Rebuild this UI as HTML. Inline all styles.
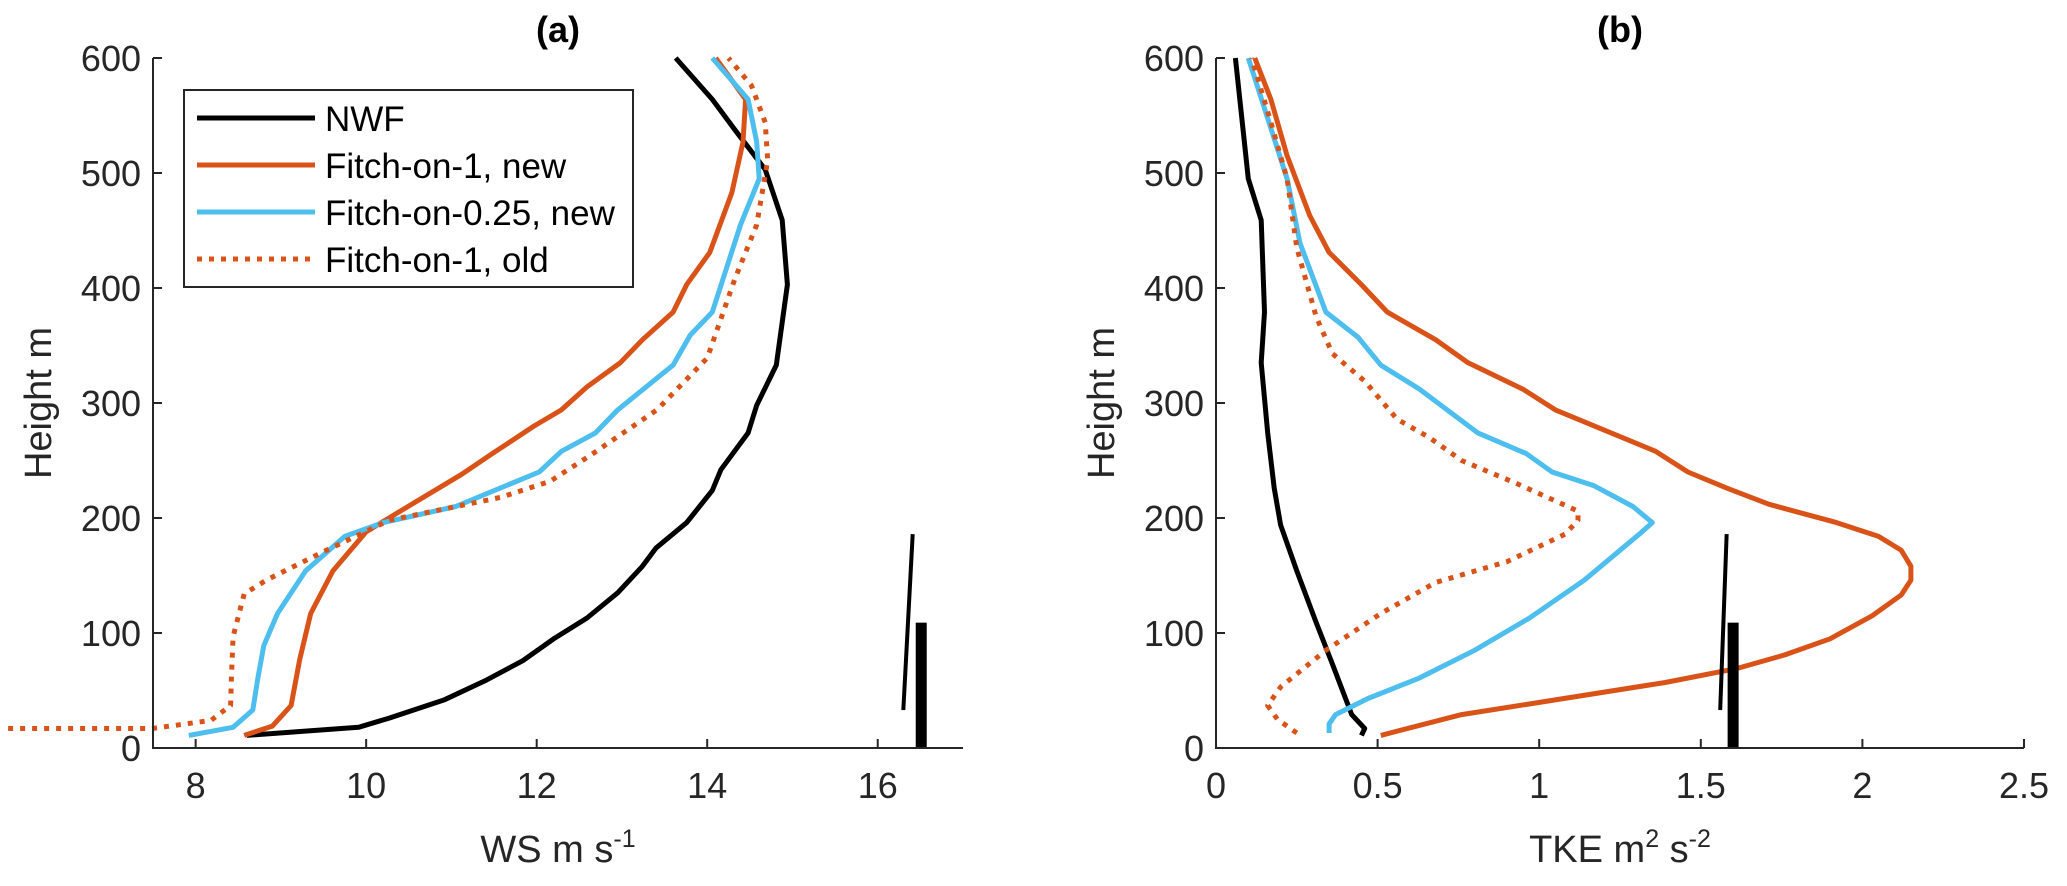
<!DOCTYPE html>
<html><head><meta charset="utf-8"><style>
body{margin:0;background:#fff;}
svg{display:block;font-family:"Liberation Sans",sans-serif;}
</style></head><body>
<svg id="chart" width="2067" height="886" viewBox="0 0 2067 886"></svg>
<script>
// Panel (a) wind speed data
const wsNwfH=[11,18,26,42,59,76,95,113,135,158,174,196,224,242,274,298,333,403,459,503,538,564,600];
const wsNwfV=[8.6,9.91,10.27,10.92,11.41,11.84,12.2,12.59,12.95,13.24,13.4,13.76,14.06,14.16,14.48,14.58,14.81,14.94,14.88,14.68,14.32,14.06,13.63];
const wsNewH=[11,19,37,77,117,154,188,206,238,256,280,294,314,335,355,379,403,431,483,527,564,600];
const wsNewV=[8.57,8.9,9.12,9.22,9.35,9.61,10.0,10.4,11.12,11.48,11.97,12.29,12.59,12.98,13.24,13.6,13.76,14.03,14.29,14.42,14.45,14.1];
const wsQtrH=[11,18,33,61,89,117,154,184,196,210,240,258,274,294,333,359,379,455,495,527,564,600];
const wsQtrV=[7.92,8.44,8.67,8.73,8.8,8.96,9.29,9.75,10.2,11.05,12.03,12.29,12.69,12.95,13.6,13.8,14.06,14.39,14.61,14.58,14.48,14.06];
const wsOldH=[17,17,24,37,61,97,134,146,170,198,218,232,254,294,339,407,455,511,544,576,600];
const wsOldV=[5.8,7.49,8.18,8.41,8.42,8.44,8.57,8.83,9.48,10.27,11.58,12.16,12.62,13.41,14.0,14.32,14.58,14.71,14.68,14.52,14.25];
const wsThinBar=[16.3,33,16.41,186];
const wsThickBar=[16.51,109];
// Panel (b) TKE data
const tkNwfH=[11,17,29,73,109,154,194,226,274,335,379,459,495,600];
const tkNwfV=[0.45,0.46,0.42,0.36,0.31,0.25,0.2,0.18,0.16,0.14,0.15,0.14,0.1,0.06];
const tkNewH=[11,29,41,57,69,81,95,115,133,146,158,172,184,196,212,226,240,258,294,312,335,355,379,403,431,463,515,564,600];
const tkNewV=[0.51,0.76,1.03,1.39,1.61,1.76,1.9,2.03,2.12,2.15,2.15,2.12,2.05,1.92,1.71,1.58,1.46,1.36,1.05,0.95,0.78,0.68,0.53,0.45,0.35,0.29,0.22,0.17,0.12];
const tkQtrH=[13,21,29,43,61,85,113,146,186,196,210,228,240,256,274,312,333,357,379,439,495,600];
const tkQtrV=[0.35,0.35,0.37,0.47,0.63,0.8,0.97,1.14,1.31,1.35,1.29,1.17,1.04,0.96,0.81,0.63,0.51,0.44,0.34,0.26,0.22,0.1];
const tkOldH=[13,25,37,53,85,117,144,162,186,198,206,230,250,270,286,319,343,375,435,495,544,600];
const tkOldV=[0.25,0.19,0.16,0.2,0.34,0.51,0.68,0.9,1.08,1.12,1.12,0.93,0.76,0.66,0.56,0.46,0.36,0.31,0.25,0.22,0.17,0.11];
const tkThinBar=[1.56,33,1.58,186];
const tkThickBar=[1.6,109];
const yTicks=[0,100,200,300,400,500,600];
const wsTicks=[8,10,12,14,16];
const tkTicks=[0,0.5,1,1.5,2,2.5];
const tkTickLabels=["0","0.5","1","1.5","2","2.5"];

const NS="http://www.w3.org/2000/svg";
const svg=document.getElementById('chart');
function mk(tag,attrs,parent){const e=document.createElementNS(NS,tag);for(const k in attrs)e.setAttribute(k,attrs[k]);(parent||svg).appendChild(e);return e;}
const Y0=748,Y1=58;
function yS(h){return Y0+(Y1-Y0)*h/600;}
const panels=[
 {x0:153,x1:963,min:7.5,max:17,ticks:wsTicks,labels:wsTicks.map(String),title:"(a)",name:"panel-a",
  series:[[wsNwfV,wsNwfH,'#000',''],[wsNewV,wsNewH,'#D95319',''],[wsQtrV,wsQtrH,'#4DBEEE',''],[wsOldV,wsOldH,'#D95319','5 7']],thin:wsThinBar,thick:wsThickBar},
 {x0:1216,x1:2024,min:0,max:2.5,ticks:tkTicks,labels:tkTickLabels,title:"(b)",name:"panel-b",
  series:[[tkNwfV,tkNwfH,'#000',''],[tkNewV,tkNewH,'#D95319',''],[tkQtrV,tkQtrH,'#4DBEEE',''],[tkOldV,tkOldH,'#D95319','5 7']],thin:tkThinBar,thick:tkThickBar}
];
const seriesNames=['nwf-line','fitch-1-new-line','fitch-025-new-line','fitch-1-old-line'];
panels.forEach(p=>{
 const xS=v=>p.x0+(v-p.min)/(p.max-p.min)*(p.x1-p.x0);
 const g=mk('g',{});
 
 
 p.series.forEach((s,i)=>{
  const d=s[0].map((v,j)=>(j?'L':'M')+xS(v).toFixed(1)+' '+yS(s[1][j]).toFixed(1)).join(' ');
  const path=mk('path',{d:d,fill:'none',stroke:s[2],'stroke-width':5,'stroke-linejoin':'round'},g);
  if(s[3])path.setAttribute('stroke-dasharray',s[3]);
  
  
 });
 const thin=mk('line',{x1:xS(p.thin[0]),y1:yS(p.thin[1]),x2:xS(p.thin[2]),y2:yS(p.thin[3]),stroke:'#000','stroke-width':4},g);
 
 
 const tb=mk('rect',{x:xS(p.thick[0])-5.5,y:yS(p.thick[1]),width:11,height:Y0-yS(p.thick[1]),fill:'#000'},g);
 
 
 const ax=mk('path',{d:`M${p.x0} ${Y1} L${p.x0} ${Y0} L${p.x1} ${Y0}`,fill:'none',stroke:'#262626','stroke-width':2},g);
 
 
 yTicks.forEach(t=>{
  mk('line',{x1:p.x0,x2:p.x0+9,y1:yS(t),y2:yS(t),stroke:'#262626','stroke-width':2},g);
  const tx=mk('text',{x:p.x0-12,y:yS(t)+13,'text-anchor':'end','font-size':36,fill:'#262626'},g);
  tx.textContent=t;
  
  
 });
 p.ticks.forEach((t,i)=>{
  mk('line',{x1:xS(t),x2:xS(t),y1:Y0,y2:Y0-9,stroke:'#262626','stroke-width':2},g);
  const tx=mk('text',{x:xS(t),y:Y0+50,'text-anchor':'middle','font-size':36,fill:'#262626'},g);
  tx.textContent=p.labels[i];
  
  
 });
 const cx=(p.x0+p.x1)/2;
 const tt=mk('text',{x:cx,y:42,'text-anchor':'middle','font-size':36,'font-weight':'bold',fill:'#000'},g);
 tt.textContent=p.title;
 
 
 const yl=mk('text',{x:0,y:0,'text-anchor':'middle','font-size':38,fill:'#262626',transform:`translate(${p.x0-102},403) rotate(-90)`},g);
 yl.textContent='Height m';
 
 
});
</script>
<svg style="position:absolute;left:0;top:0" width="2067" height="886">
 <text x="558" y="862" text-anchor="middle" font-size="38" fill="#262626" font-family="Liberation Sans, sans-serif">WS m s<tspan dy="-15" font-size="25">-1</tspan></text>
 <text x="1620" y="862" text-anchor="middle" font-size="38" fill="#262626" font-family="Liberation Sans, sans-serif">TKE m<tspan dy="-15" font-size="25">2</tspan><tspan dy="15"> s</tspan><tspan dy="-15" font-size="25">-2</tspan></text>
 <g font-family="Liberation Sans, sans-serif" font-size="35" fill="#000">
  <rect x="184" y="90" width="449" height="197" fill="#fff" stroke="#262626" stroke-width="2"/>
  <line x1="197" y1="118" x2="315" y2="118" stroke="#000" stroke-width="5"/>
  <text x="325" y="131">NWF</text>
  <line x1="197" y1="165" x2="315" y2="165" stroke="#D95319" stroke-width="5"/>
  <text x="325" y="178">Fitch-on-1, new</text>
  <line x1="197" y1="212" x2="315" y2="212" stroke="#4DBEEE" stroke-width="5"/>
  <text x="325" y="225">Fitch-on-0.25, new</text>
  <line x1="197" y1="259" x2="315" y2="259" stroke="#D95319" stroke-width="5" stroke-dasharray="5 7"/>
  <text x="325" y="272">Fitch-on-1, old</text>
 </g>
</svg>
</body></html>
